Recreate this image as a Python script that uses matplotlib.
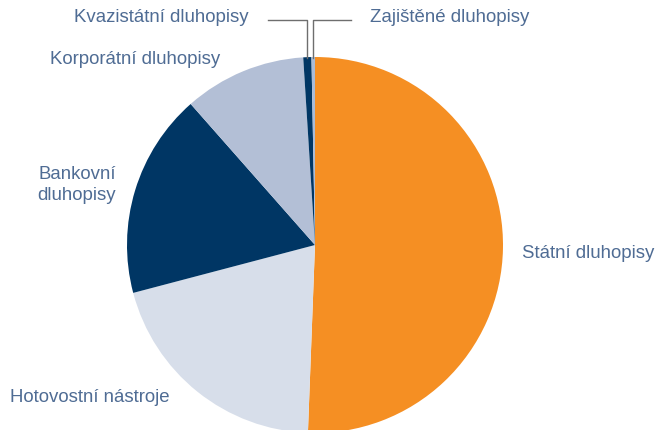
import matplotlib.pyplot as plt

# share of portfolio (%), clockwise from 12 o'clock
labels = ['Státní dluhopisy', 'Hotovostní nástroje', 'Bankovní\ndluhopisy',
          'Korporátní dluhopisy', 'Kvazistátní dluhopisy', 'Zajištěné dluhopisy']
shares = [50.6, 20.3, 17.6, 10.5, 0.7, 0.3]
colors = ['#f58f23', '#d7deea', '#003664', '#b3bfd6', '#003664', '#a9bcd8']

text_color = '#4f6c94'
W, H = 659, 430

fig = plt.figure(figsize=(W / 100, H / 100), dpi=100)
ax = fig.add_axes([0, 0, 1, 1])

# pie centre/radius in pixel units (y measured from bottom)
cx, cy, r = 315, H - 245, 188
ax.pie(shares, colors=colors, startangle=90, counterclock=False,
       center=(cx, cy), radius=r, wedgeprops=dict(linewidth=0))
ax.set_xlim(0, W)
ax.set_ylim(0, H)
ax.set_aspect('equal')
ax.axis('off')

font = dict(family=['Liberation Sans', 'DejaVu Sans'], fontsize=13.4, color=text_color)

ax.text(522, H - 253, labels[0], ha='left', va='center', **font)
ax.text(10, H - 397, labels[1], ha='left', va='center', **font)
ax.text(77, H - 185, labels[2], ha='center', va='center', linespacing=1.25, **font)
ax.text(220, H - 60, labels[3], ha='right', va='center', **font)
ax.text(249, H - 18, labels[4], ha='right', va='center', **font)
ax.text(370, H - 18, labels[5], ha='left', va='center', **font)

# leader lines for the two tiny slices
line = dict(color='#6e6e6e', linewidth=1)
ax.plot([268, 306.5, 306.5], [H - 20, H - 20, H - 58], **line)
ax.plot([351, 312.5, 312.5], [H - 20, H - 20, H - 58], **line)

fig.savefig('out.png', dpi=100)
